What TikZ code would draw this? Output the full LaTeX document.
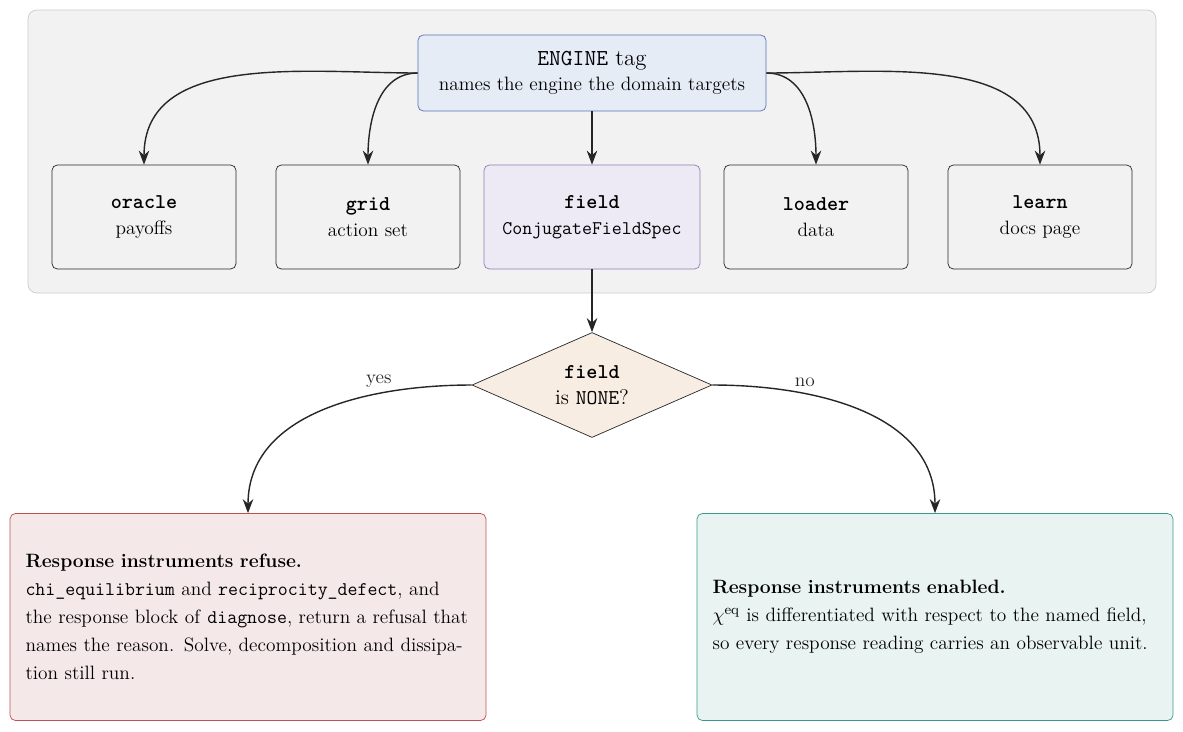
\documentclass[tikz,border=0pt]{standalone}
\usepackage{amsmath}
\usetikzlibrary{shapes.geometric,arrows.meta,positioning}
\definecolor{panelgray}{HTML}{F2F2F2}
\definecolor{engfill}{HTML}{E6ECF5}
\definecolor{engdraw}{HTML}{5573B8}
\definecolor{fldfill}{HTML}{EDEAF5}
\definecolor{flddraw}{HTML}{8A7FB8}
\definecolor{qfill}{HTML}{F8EDE3}
\definecolor{nofill}{HTML}{F5E8E8}
\definecolor{nodraw}{HTML}{C0504D}
\definecolor{okfill}{HTML}{E9F3F1}
\definecolor{okdraw}{HTML}{3A9A8A}
\tikzset{
  part/.style={draw=black!85, rounded corners=3pt, minimum width=3.68cm, minimum height=2.08cm, align=center, font=\fontsize{11}{15}\selectfont},
  outcome/.style={rounded corners=3pt, minimum width=9.52cm, minimum height=4.14cm, text width=8.9cm, align=left, font=\fontsize{11}{16}\selectfont},
  flow/.style={-{Stealth[length=8pt,width=6pt]}, black!85, thick},
}
\begin{document}
\begin{tikzpicture}[x=0.02cm,y=-0.02cm]
				\useasboundingbox (0,0) rectangle (1183,731);
				\draw[draw=black!20, fill=panelgray, rounded corners=5pt] (28,10) rectangle (1156,293);
				
				\node[draw=engdraw, fill=engfill, rounded corners=3pt, minimum width=6.96cm, minimum height=1.52cm, align=center] (engine) at (592,73)
					{{\fontsize{13}{16}\selectfont\texttt{ENGINE} tag}\\[2pt]{\fontsize{11}{14}\selectfont names the engine the domain targets}};
				
				\node[part] (oracle) at (144,217) {{\large\texttt{\textbf{oracle}}}\\payoffs};
				\node[part] (grid)   at (368,217) {{\large\texttt{\textbf{grid}}}\\action set};
				\node[part, draw=flddraw, fill=fldfill, minimum width=4.32cm] (field) at (592,217) {{\large\texttt{\textbf{field}}}\\\texttt{ConjugateFieldSpec}};
				\node[part] (loader) at (816,217) {{\large\texttt{\textbf{loader}}}\\data};
				\node[part] (learn)  at (1040,217) {{\large\texttt{\textbf{learn}}}\\docs page};
				
				\node[diamond, draw=black!85, fill=qfill, aspect=2.3, minimum width=4.8cm, minimum height=2.1cm, inner sep=0pt, align=center, font=\fontsize{12}{15}\selectfont] (isnone) at (592,385)
					{\texttt{\textbf{field}}\\is \texttt{NONE}?};
				
				\node[outcome, draw=nodraw, fill=nofill] (refuse) at (248,617)
					{\textbf{Response instruments refuse.}\\
					\texttt{chi\_equilibrium} and \texttt{reciprocity\_defect}, and the response block of \texttt{diagnose}, return a refusal that names the reason. Solve, decomposition and dissipation still run.};
				\node[outcome, draw=okdraw, fill=okfill] (enable) at (935,617)
					{\textbf{Response instruments enabled.}\\
					$\chi^{\mathrm{eq}}$ is differentiated with respect to the named field, so every response reading carries an observable unit.};
				
				\draw[flow] (engine.west) to[out=180,in=90] (oracle.north);
				\draw[flow] (engine.west) to[out=180,in=90] (grid.north);
				\draw[flow] (engine) -- (field);
				\draw[flow] (engine.east) to[out=0,in=90] (loader.north);
				\draw[flow] (engine.east) to[out=0,in=90] (learn.north);
				\draw[flow] (field) -- (isnone);
				\draw[flow] (isnone.west) to[out=180,in=90] node[pos=0.3, above, font=\fontsize{11}{13}\selectfont] {yes} (refuse.north);
				\draw[flow] (isnone.east) to[out=0,in=90] node[pos=0.3, above, font=\fontsize{11}{13}\selectfont] {no} (enable.north);
			\end{tikzpicture}
\end{document}
